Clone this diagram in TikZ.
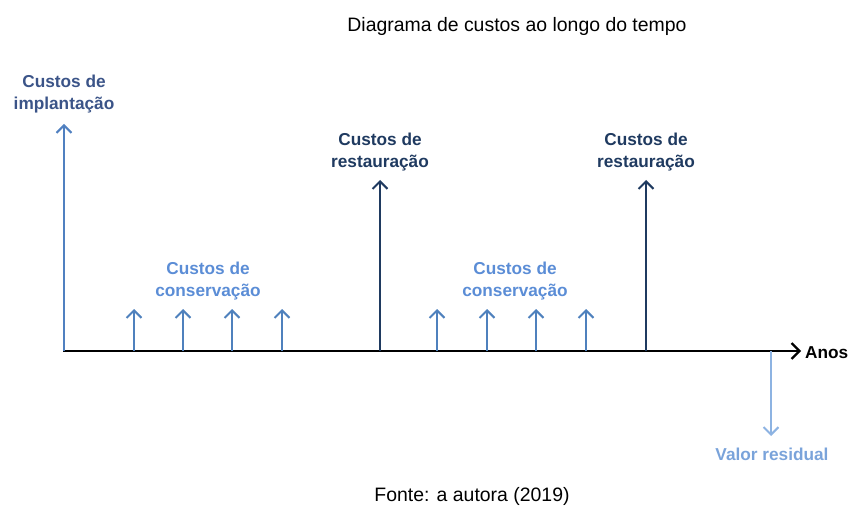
\documentclass[tikz,border=0pt]{standalone}
\usepackage{fontspec}
\setmainfont{Liberation Sans}
\usetikzlibrary{arrows.meta}
\definecolor{implc}{HTML}{3B5488}
\definecolor{implarr}{HTML}{5080C0}
\definecolor{restc}{HTML}{1F3A60}
\definecolor{consc}{HTML}{5B8DD6}
\definecolor{consarr}{HTML}{4F81BD}
\definecolor{resc}{HTML}{7AA3DA}
\definecolor{resarr}{HTML}{8DB3E2}
\tikzset{
  lbl/.style={font=\fontsize{17.3}{21.5}\selectfont\bfseries, align=center, inner sep=0pt},
  plain/.style={font=\fontsize{19.5}{23}\selectfont, inner sep=0pt},
  uparr/.style={line width=2.5pt, -{Straight Barb[length=7.5pt,width=15pt,line width=2.1pt]}},
}
\begin{document}
\begin{tikzpicture}[x=1bp,y=-1bp]
\useasboundingbox (0,0) rectangle (856,518);
\node[plain] (title) at (517,26) {Diagrama de custos ao longo do tempo};
\node[plain] (fonte) at (472,496) {Fonte: a autora (2019)};

% axis
\coordinate (o) at (63,351);
\coordinate (axend) at (801,351);
\draw[line width=2.8pt, -{Straight Barb[length=8pt,width=16pt,line width=2.2pt]}] (o) -- (axend);
\node[lbl, anchor=west] (anos) at (805,353) {Anos};

% implantacao
\coordinate (i0) at (64,351);
\coordinate (i1) at (64,124);
\draw[uparr, implarr] (i0) -- (i1);
\node[lbl, text=implc] (impl) at (64,94) {Custos de\\implantação};

% restauracao
\foreach \n/\x in {r1/380, r2/646}{
  \coordinate (\n a) at (\x,351);
  \coordinate (\n b) at (\x,180);
  \draw[uparr, restc] (\n a) -- (\n b);
  \node[lbl, text=restc] (\n t) at (\x,152) {Custos de\\restauração};
}

% conservacao
\foreach \x in {134,183,232,282,437,487,536,586}{
  \coordinate (c\x a) at (\x,351);
  \coordinate (c\x b) at (\x,309);
  \draw[uparr, consarr] (c\x a) -- (c\x b);
}
\node[lbl, text=consc] (cons1) at (208,281) {Custos de\\conservação};
\node[lbl, text=consc] (cons2) at (515,281) {Custos de\\conservação};

% valor residual
\coordinate (v0) at (771,351);
\coordinate (v1) at (771,436);
\draw[uparr, resarr] (v0) -- (v1);
\node[lbl, text=resc] (valor) at (772,454) {Valor residual};
\end{tikzpicture}
\end{document}
